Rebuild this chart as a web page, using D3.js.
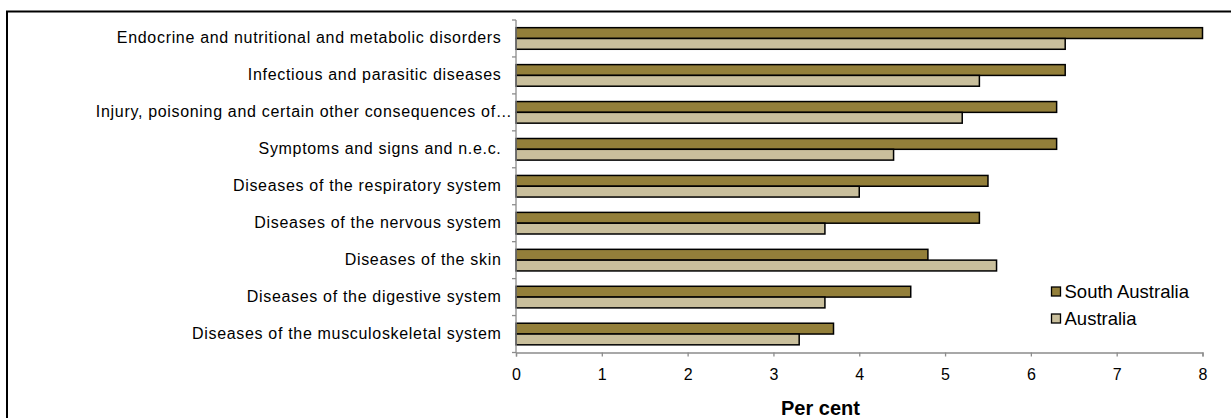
<!DOCTYPE html>
<html><head><meta charset="utf-8">
<script src="https://cdn.jsdelivr.net/npm/d3@7"></script>
<style>html,body{margin:0;padding:0;background:#fff;}svg{display:block;}</style>
</head><body>
<svg id="c" width="1231" height="418"></svg>
<script>
const categories = [
  "Endocrine and nutritional and metabolic disorders",
  "Infectious and parasitic diseases",
  "Injury, poisoning and certain other consequences of…",
  "Symptoms and signs and n.e.c.",
  "Diseases of the respiratory system",
  "Diseases of the nervous system",
  "Diseases of the skin",
  "Diseases of the digestive system",
  "Diseases of the musculoskeletal system"
];
const seriesNames = ["South Australia", "Australia"];
const southAustralia = [8.0, 6.4, 6.3, 6.3, 5.5, 5.4, 4.8, 4.6, 3.7];
const australia = [6.4, 5.4, 5.2, 4.4, 4.0, 3.6, 5.6, 3.6, 3.3];
const xTicks = [0, 1, 2, 3, 4, 5, 6, 7, 8];
const xTitle = "Per cent";
const colors = ["#937f3a", "#c9bf9c"];

(function () {
const svg = d3.select("#c");
const font = "Arial, 'Liberation Sans', sans-serif";

// outer frame
svg.append("rect").attr("x", 7).attr("y", 11.5).attr("width", 1240).attr("height", 420)
  .attr("fill", "none").attr("stroke", "#000").attr("stroke-width", 2);

const pL = 516, pR = 1202.5, pT = 20, pB = 352.5;
const x = d3.scaleLinear().domain([0, 8]).range([pL, pR]);
const y = d3.scaleBand().domain(categories).range([pT, pB]).paddingInner(0).paddingOuter(0);
const inner = d3.scaleBand().domain(seriesNames).range([0, y.bandwidth()]).paddingInner(0).paddingOuter(0.71);

const data = categories.map((c, i) => ({ cat: c, vals: [southAustralia[i], australia[i]] }));

// bars
const g = svg.append("g");
data.forEach(d => {
  d.vals.forEach((v, j) => {
    g.append("rect")
      .attr("x", x(0))
      .attr("y", y(d.cat) + inner(seriesNames[j]))
      .attr("width", x(v) - x(0))
      .attr("height", inner.bandwidth())
      .attr("fill", colors[j])
      .attr("stroke", "#000")
      .attr("stroke-width", 1.5);
  });
});

// y axis line with ticks at category boundaries (outward)
const ya = svg.append("g");
ya.append("line").attr("x1", pL).attr("x2", pL).attr("y1", pT).attr("y2", pB)
  .attr("stroke", "#8c8c8c").attr("stroke-width", 1.3);
const bounds = categories.map(c => y(c)).concat([pB]);
ya.selectAll("line.t").data(bounds).enter().append("line")
  .attr("x1", pL - 4).attr("x2", pL).attr("y1", d => d).attr("y2", d => d)
  .attr("stroke", "#8c8c8c").attr("stroke-width", 1.3);

// category labels
svg.append("g").selectAll("text").data(categories).enter().append("text")
  .attr("x", d => d.endsWith("…") ? pL - 3.5 : pL - 14.5)
  .attr("y", d => y(d) + y.bandwidth() / 2 - 1)
  .attr("text-anchor", "end").attr("dominant-baseline", "central")
  .attr("font-family", font).attr("font-size", "16px").attr("letter-spacing", "0.68px").attr("fill", "#000")
  .text(d => d);

// x axis
const xAxis = d3.axisBottom(x).tickValues(xTicks).tickSize(4).tickFormat(d3.format("d"));
const xa = svg.append("g").attr("transform", `translate(0,${pB})`).call(xAxis);
xa.select(".domain").attr("stroke", "#8c8c8c").attr("stroke-width", 1.3);
xa.selectAll(".tick line").attr("stroke", "#8c8c8c").attr("stroke-width", 1.3);
xa.selectAll(".tick text").attr("font-family", font).attr("font-size", "16px").attr("fill", "#000")
  .attr("y", 21.5).attr("dy", null).attr("dominant-baseline", "central");

svg.append("text").attr("x", 820.5).attr("y", 408)
  .attr("text-anchor", "middle").attr("dominant-baseline", "central")
  .attr("font-family", font).attr("font-size", "20px").attr("font-weight", "bold")
  .text(xTitle);

// legend
const lg = svg.append("g");
seriesNames.forEach((n, i) => {
  const ly = 291.5 + i * 27;
  lg.append("rect").attr("x", 1051.5).attr("y", ly - 4.5).attr("width", 9).attr("height", 9)
    .attr("fill", colors[i]).attr("stroke", "#000").attr("stroke-width", 1.3);
  lg.append("text").attr("x", 1064.5).attr("y", ly).attr("dominant-baseline", "central")
    .attr("font-family", font).attr("font-size", "18.5px").text(n);
});
})();
</script>
</body></html>
